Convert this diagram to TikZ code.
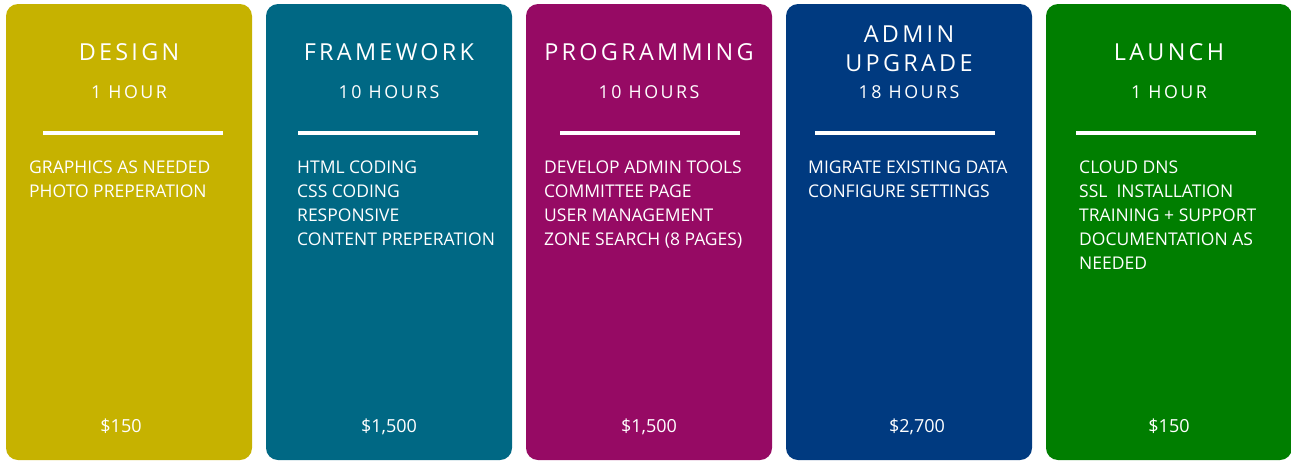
\documentclass[tikz,border=0pt]{standalone}
\usepackage{fontspec}
\setmainfont{Open Sans}
\newfontfamily\spacedfont[LetterSpace=14]{Open Sans}
\usetikzlibrary{positioning}
\definecolor{designcol}{RGB}{198,178,0}
\definecolor{frameworkcol}{RGB}{0,104,132}
\definecolor{programmingcol}{RGB}{150,10,100}
\definecolor{admincol}{RGB}{0,58,128}
\definecolor{launchcol}{RGB}{0,126,0}
\tikzstyle{card}=[rectangle,rounded corners=12pt,minimum width=246pt,minimum height=456pt,inner sep=0pt,outer sep=0pt]
\tikzstyle{title}=[text=white,anchor=base,inner sep=0pt,font=\spacedfont\fontsize{23.4}{29}\selectfont]
\tikzstyle{hours}=[text=white,anchor=base,inner sep=0pt,font=\spacedfont\fontsize{17.8}{22}\selectfont]
\tikzstyle{bar}=[rectangle,fill=white,minimum width=180pt,minimum height=4pt,inner sep=0pt]
\tikzstyle{tasks}=[text=white,anchor=north west,align=left,inner sep=0pt,font=\fontsize{17.5}{24}\selectfont]
\tikzstyle{price}=[text=white,anchor=base,inner sep=0pt,font=\fontsize{18}{22}\selectfont]
\begin{document}
\begin{tikzpicture}[x=1pt,y=-1pt]
\useasboundingbox (0,0) rectangle (1291,461);

\node (design) [card,fill=designcol] at (129,232) {};
\node (framework) [card,fill=frameworkcol,right=14pt of design] {};
\node (programming) [card,fill=programmingcol,right=14pt of framework] {};
\node (admin) [card,fill=admincol,right=14pt of programming] {};
\node (launch) [card,fill=launchcol,right=14pt of admin] {};

% design
\node (design-title) [title] at ([yshift=-56pt]design.north) {DESIGN};
\node (design-hours) [hours] at ([yshift=-94pt]design.north) {1 HOUR};
\node (design-bar) [bar] at ([xshift=4pt,yshift=-129pt]design.north) {};
\node (design-tasks) [tasks] at ([xshift=23pt,yshift=-157pt]design.north west) {GRAPHICS AS NEEDED\\PHOTO PREPERATION};
\node (design-price) [price] at ([xshift=-8pt,yshift=-428pt]design.north) {\$150};

% framework
\node (framework-title) [title] at ([yshift=-56pt]framework.north) {FRAMEWORK};
\node (framework-hours) [hours] at ([yshift=-94pt]framework.north) {10 HOURS};
\node (framework-bar) [bar] at ([xshift=-1pt,yshift=-129pt]framework.north) {};
\node (framework-tasks) [tasks] at ([xshift=31pt,yshift=-157pt]framework.north west) {HTML CODING\\CSS CODING\\RESPONSIVE\\CONTENT PREPERATION};
\node (framework-price) [price] at ([yshift=-428pt]framework.north) {\$1,500};

% programming
\node (programming-title) [title] at ([yshift=-56pt]programming.north) {PROGRAMMING};
\node (programming-hours) [hours] at ([yshift=-94pt]programming.north) {10 HOURS};
\node (programming-bar) [bar] at ([xshift=1pt,yshift=-129pt]programming.north) {};
\node (programming-tasks) [tasks] at ([xshift=18pt,yshift=-157pt]programming.north west) {DEVELOP ADMIN TOOLS\\COMMITTEE PAGE\\USER MANAGEMENT\\ZONE SEARCH (8 PAGES)};
\node (programming-price) [price] at ([yshift=-428pt]programming.north) {\$1,500};

% admin upgrade
\node (admin-title) [title] at ([yshift=-38pt]admin.north) {ADMIN};
\node (admin-title-b) [title] at ([yshift=-67pt]admin.north) {UPGRADE};
\node (admin-hours) [hours] at ([yshift=-94pt]admin.north) {18 HOURS};
\node (admin-bar) [bar] at ([xshift=-4pt,yshift=-129pt]admin.north) {};
\node (admin-tasks) [tasks] at ([xshift=22pt,yshift=-157pt]admin.north west) {MIGRATE EXISTING DATA\\CONFIGURE SETTINGS};
\node (admin-price) [price] at ([xshift=8pt,yshift=-428pt]admin.north) {\$2,700};

% launch
\node (launch-title) [title] at ([yshift=-56pt]launch.north) {LAUNCH};
\node (launch-hours) [hours] at ([yshift=-94pt]launch.north) {1 HOUR};
\node (launch-bar) [bar] at ([xshift=-3pt,yshift=-129pt]launch.north) {};
\node (launch-tasks) [tasks] at ([xshift=33pt,yshift=-157pt]launch.north west) {CLOUD DNS\\SSL\ \ INSTALLATION\\TRAINING + SUPPORT\\DOCUMENTATION AS\\NEEDED};
\node (launch-price) [price] at ([yshift=-428pt]launch.north) {\$150};

\end{tikzpicture}
\end{document}
